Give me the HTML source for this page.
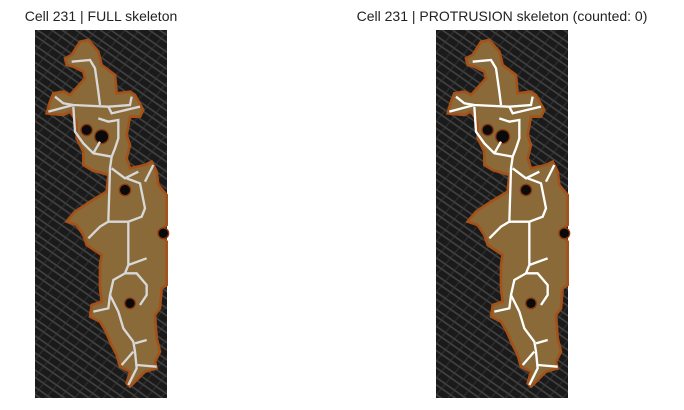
<!DOCTYPE html>
<html><head><meta charset="utf-8"><style>
html,body{margin:0;padding:0;background:#fff;}
svg{display:block;font-family:"Liberation Sans",sans-serif;}
</style></head><body>
<svg width="684" height="410" viewBox="0 0 684 410">
<defs>
<pattern id="tex" width="14" height="14" patternUnits="userSpaceOnUse" patternTransform="rotate(35)">
<rect width="14" height="14" fill="#1a1a1a"/>
<path d="M0 3 H14 M0 9 H14" stroke="#454545" stroke-width="1.5"/>
</pattern>
<pattern id="tex2" width="11" height="11" patternUnits="userSpaceOnUse" patternTransform="rotate(-50)">
<path d="M0 5 H11" stroke="#3a3a3a" stroke-width="1.2" opacity="0.6"/>
</pattern>
<polygon id="cellshape" points="150,50 175,45 205,80 215,120 255,150 260,205 300,200 315,210 340,255 330,275 300,275 290,330 300,360 290,400 300,430 345,420 365,410 380,440 385,480 410,510 410,600 385,620 410,650 410,780 395,790 390,850 375,870 380,940 390,980 375,1010 380,1030 345,1040 300,1085 290,1075 300,1040 270,1025 260,990 245,960 225,915 210,890 180,875 185,840 215,830 210,790 210,720 215,690 170,660 160,630 140,600 110,590 135,560 180,530 230,500 235,450 185,435 160,420 160,380 140,340 140,290 120,260 100,270 50,265 60,230 70,205 100,200 120,210 165,160 160,140 130,125 110,120 105,100 125,90"/>
<g id="skel" fill="none" stroke-width="7" stroke-linejoin="miter">
<polyline points="125,110 180,105 195,130 205,200 210,240"/>
<polyline points="75,215 100,235 130,240 235,245 300,240 305,215"/>
<polyline points="55,260 130,240"/>
<polyline points="235,245 245,265 330,245"/>
<polyline points="205,280 235,290 265,285 265,340 255,370 245,395 240,430 235,590"/>
<polyline points="130,245 135,320 160,355 190,385 245,395"/>
<polyline points="190,385 210,350"/>
<polyline points="245,430 285,460 325,440"/>
<polyline points="290,460 330,475 335,500 345,550 335,575 295,590"/>
<polyline points="345,470 370,420"/>
<polyline points="235,590 210,605 175,640"/>
<polyline points="235,590 295,590 295,720 285,745 250,765 240,810 235,850 190,860"/>
<polyline points="295,720 350,700"/>
<polyline points="285,745 320,745 350,780 350,810 330,840"/>
<polyline points="240,810 265,860 280,910 310,950 315,980 320,1030 295,1080"/>
<polyline points="315,955 350,945"/>
<polyline points="320,1020 380,1025"/>
<polyline points="310,980 275,1020"/>
</g>
<g id="holes" fill="#0a0a0a" stroke="#8a3a10" stroke-width="4">
<circle cx="170" cy="315" r="17"/>
<circle cx="215" cy="335" r="21"/>
<circle cx="285" cy="495" r="17"/>
<circle cx="300" cy="835" r="16"/>
<circle cx="400" cy="625" r="16"/>
</g>
</defs>

<text x="101" y="21" text-anchor="middle" font-size="14" fill="#222">Cell 231 | FULL skeleton</text>
<g>
<rect x="35" y="30" width="132" height="368" fill="url(#tex)"/>
<rect x="35" y="30" width="132" height="368" fill="url(#tex2)"/>
<g transform="translate(30,25) scale(0.33333)">
<use href="#cellshape" fill="#8a6a38" stroke="#a4521a" stroke-width="8"/>
<use href="#holes"/>
<use href="#skel" stroke="#d8d8d8"/>
</g>
</g>

<text x="502" y="21" text-anchor="middle" font-size="14" fill="#222">Cell 231 | PROTRUSION skeleton (counted: 0)</text>
<g>
<rect x="436" y="30" width="132" height="368" fill="url(#tex)"/>
<rect x="436" y="30" width="132" height="368" fill="url(#tex2)"/>
<g transform="translate(431,25) scale(0.33333)">
<use href="#cellshape" fill="#8a6a38" stroke="#a4521a" stroke-width="8"/>
<use href="#holes"/>
<use href="#skel" stroke="#ffffff"/>
</g>
</g>
</svg>
</body></html>
